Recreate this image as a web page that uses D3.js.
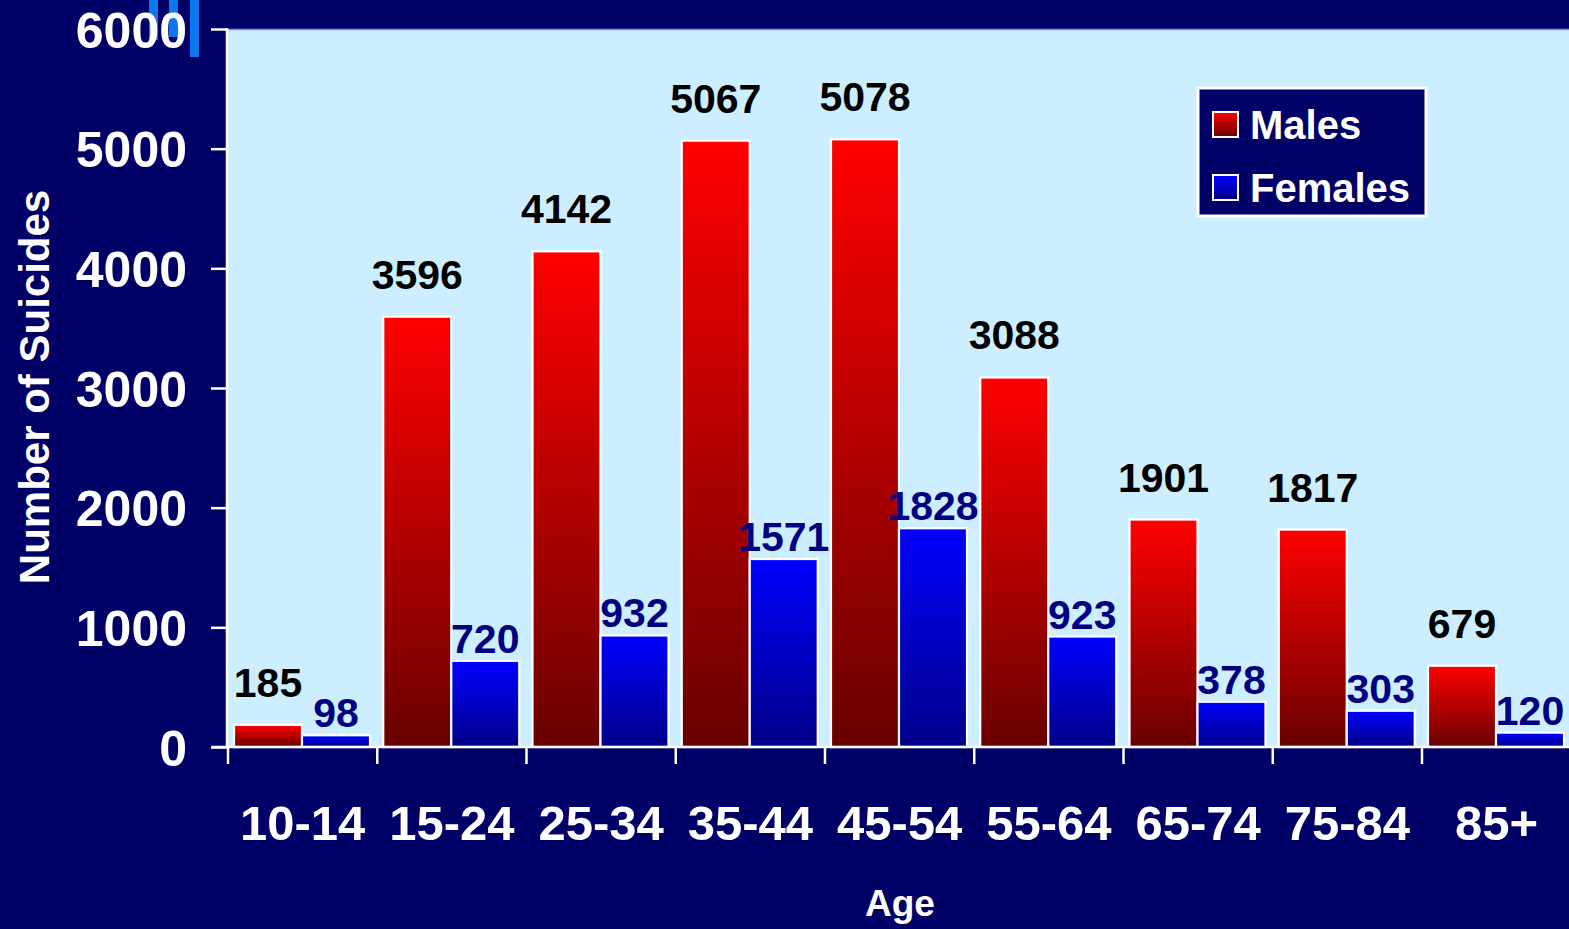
<!DOCTYPE html>
<html>
<head>
<meta charset="utf-8">
<script src="https://cdn.jsdelivr.net/npm/d3@7"></script>
<style>
  html, body { margin: 0; padding: 0; background: #000066; overflow: hidden; }
  svg { display: block; }
  text { font-family: "Liberation Sans", Arial, sans-serif; font-weight: bold; }
</style>
</head>
<body>
<svg id="chart" width="1569" height="929"></svg>
<script>
// ---- data ----
const categories = ["10-14", "15-24", "25-34", "35-44", "45-54", "55-64", "65-74", "75-84", "85+"];
const seriesNames = ["Males", "Females"];
const males   = [185, 3596, 4142, 5067, 5078, 3088, 1901, 1817, 679];
const females = [98, 720, 932, 1571, 1828, 923, 378, 303, 120];
const yTicks  = [0, 1000, 2000, 3000, 4000, 5000, 6000];

const rows = categories.map((c, i) => ({ cat: c, Males: males[i], Females: females[i] }));

const W = 1569, H = 929;
const plot = { left: 228, top: 29, bottom: 747, right: 228 + 9 * 149.25 };

const svg = d3.select("#chart");

// defs: gradients
const defs = svg.append("defs");
const gRed = defs.append("linearGradient").attr("id", "gradRed").attr("x1", 0).attr("y1", 0).attr("x2", 0).attr("y2", 1);
gRed.append("stop").attr("offset", "0%").attr("stop-color", "#ff0000");
gRed.append("stop").attr("offset", "100%").attr("stop-color", "#680000");
const gBlue = defs.append("linearGradient").attr("id", "gradBlue").attr("x1", 0).attr("y1", 0).attr("x2", 0).attr("y2", 1);
gBlue.append("stop").attr("offset", "0%").attr("stop-color", "#0000ff");
gBlue.append("stop").attr("offset", "100%").attr("stop-color", "#000088");
const fills = { Males: "url(#gradRed)", Females: "url(#gradBlue)" };
const labelColors = { Males: "#000000", Females: "#000080" };

// background
svg.append("rect").attr("width", W).attr("height", H).attr("fill", "#000066");

// decorative marks at top-left
const deco = [[149, 9, 40], [169, 9, 37], [190, 9, 57]];
svg.append("g").selectAll("rect").data(deco).join("rect")
  .attr("x", d => d[0]).attr("y", 0).attr("width", d => d[1]).attr("height", d => d[2])
  .attr("fill", "#0a78ee");

// scales
const x0 = d3.scaleBand().domain(categories).range([plot.left, plot.right]).padding(0);
const x1 = d3.scaleBand().domain(seriesNames).range([6, 142]).padding(0);
const y = d3.scaleLinear().domain([0, 6000]).range([plot.bottom, plot.top]);

// plot area
svg.append("rect")
  .attr("x", plot.left).attr("y", plot.top)
  .attr("width", W - plot.left + 5).attr("height", plot.bottom - plot.top)
  .attr("fill", "#cdeeff");
svg.append("line")
  .attr("x1", plot.left).attr("x2", W).attr("y1", plot.top + 0.5).attr("y2", plot.top + 0.5)
  .attr("stroke", "#7f8fd8").attr("stroke-width", 1.5);

// bars
const groups = svg.append("g").selectAll("g").data(rows).join("g")
  .attr("transform", d => `translate(${x0(d.cat)},0)`);

groups.selectAll("rect").data(d => seriesNames.map(s => ({ s, v: d[s] }))).join("rect")
  .attr("x", d => x1(d.s))
  .attr("y", d => y(d.v))
  .attr("width", x1.bandwidth())
  .attr("height", d => y(0) - y(d.v))
  .attr("fill", d => fills[d.s])
  .attr("stroke", "#ffffff")
  .attr("stroke-width", 2.2);

// value labels
groups.selectAll("text").data(d => seriesNames.map(s => ({ s, v: d[s] }))).join("text")
  .attr("x", d => x1(d.s) + x1.bandwidth() / 2)
  .attr("y", d => y(d.v) - (d.s === "Males" ? 28 : 8))
  .attr("text-anchor", "middle")
  .attr("font-size", 41)
  .attr("fill", d => labelColors[d.s])
  .text(d => d.v);

// y axis
const yAxis = svg.append("g")
  .attr("transform", `translate(${plot.left - 1},0)`)
  .call(d3.axisLeft(y).tickValues(yTicks).tickSize(16).tickPadding(24).tickFormat(d3.format("d")));
yAxis.select(".domain").attr("stroke", "#ffffff").attr("stroke-width", 2.5)
  .attr("d", `M0,${plot.top - 1}V${plot.bottom}`);
yAxis.selectAll(".tick line").attr("stroke", "#ffffff").attr("stroke-width", 2.5);
yAxis.selectAll(".tick text").attr("fill", "#ffffff").attr("font-size", 50)
  .attr("font-family", "'Liberation Sans', Arial, sans-serif").attr("font-weight", "bold")
  .attr("dy", "0.36em");

// x axis
const xAxis = svg.append("g")
  .attr("transform", `translate(0,${plot.bottom})`)
  .call(d3.axisBottom(x0).tickSize(0).tickPadding(0));
xAxis.select(".domain").attr("stroke", "#ffffff").attr("stroke-width", 2.5)
  .attr("d", `M${plot.left - 16},0H${W}`);
xAxis.selectAll(".tick text").attr("fill", "#ffffff").attr("font-size", 49)
  .attr("font-family", "'Liberation Sans', Arial, sans-serif").attr("font-weight", "bold")
  .attr("dy", 0).attr("y", 93);
// category boundary ticks
xAxis.append("g").selectAll("line").data(categories).join("line")
  .attr("x1", d => x0(d)).attr("x2", d => x0(d))
  .attr("y1", 0).attr("y2", 17)
  .attr("stroke", "#ffffff").attr("stroke-width", 2.5);

// axis titles
svg.append("text")
  .attr("x", 900).attr("y", 916)
  .attr("text-anchor", "middle").attr("font-size", 37).attr("fill", "#ffffff")
  .text("Age");

svg.append("text")
  .attr("transform", "translate(49,387) rotate(-90)")
  .attr("text-anchor", "middle").attr("font-size", 42).attr("fill", "#ffffff")
  .text("Number of Suicides");

// legend
const lg = svg.append("g").attr("transform", "translate(1198,88)");
lg.append("rect").attr("x", 0).attr("y", 0).attr("width", 228).attr("height", 128)
  .attr("fill", "#000066").attr("stroke", "#ffffff").attr("stroke-width", 3);
const items = lg.selectAll("g.item").data(seriesNames).join("g").attr("class", "item")
  .attr("transform", (d, i) => `translate(0,${i * 63})`);
items.append("rect").attr("x", 15).attr("y", 24).attr("width", 25).attr("height", 25)
  .attr("fill", d => fills[d]).attr("stroke", "#ffffff").attr("stroke-width", 2);
items.append("text").attr("x", 52).attr("y", 51).attr("font-size", 40).attr("fill", "#ffffff")
  .text(d => d);
</script>
</body>
</html>
